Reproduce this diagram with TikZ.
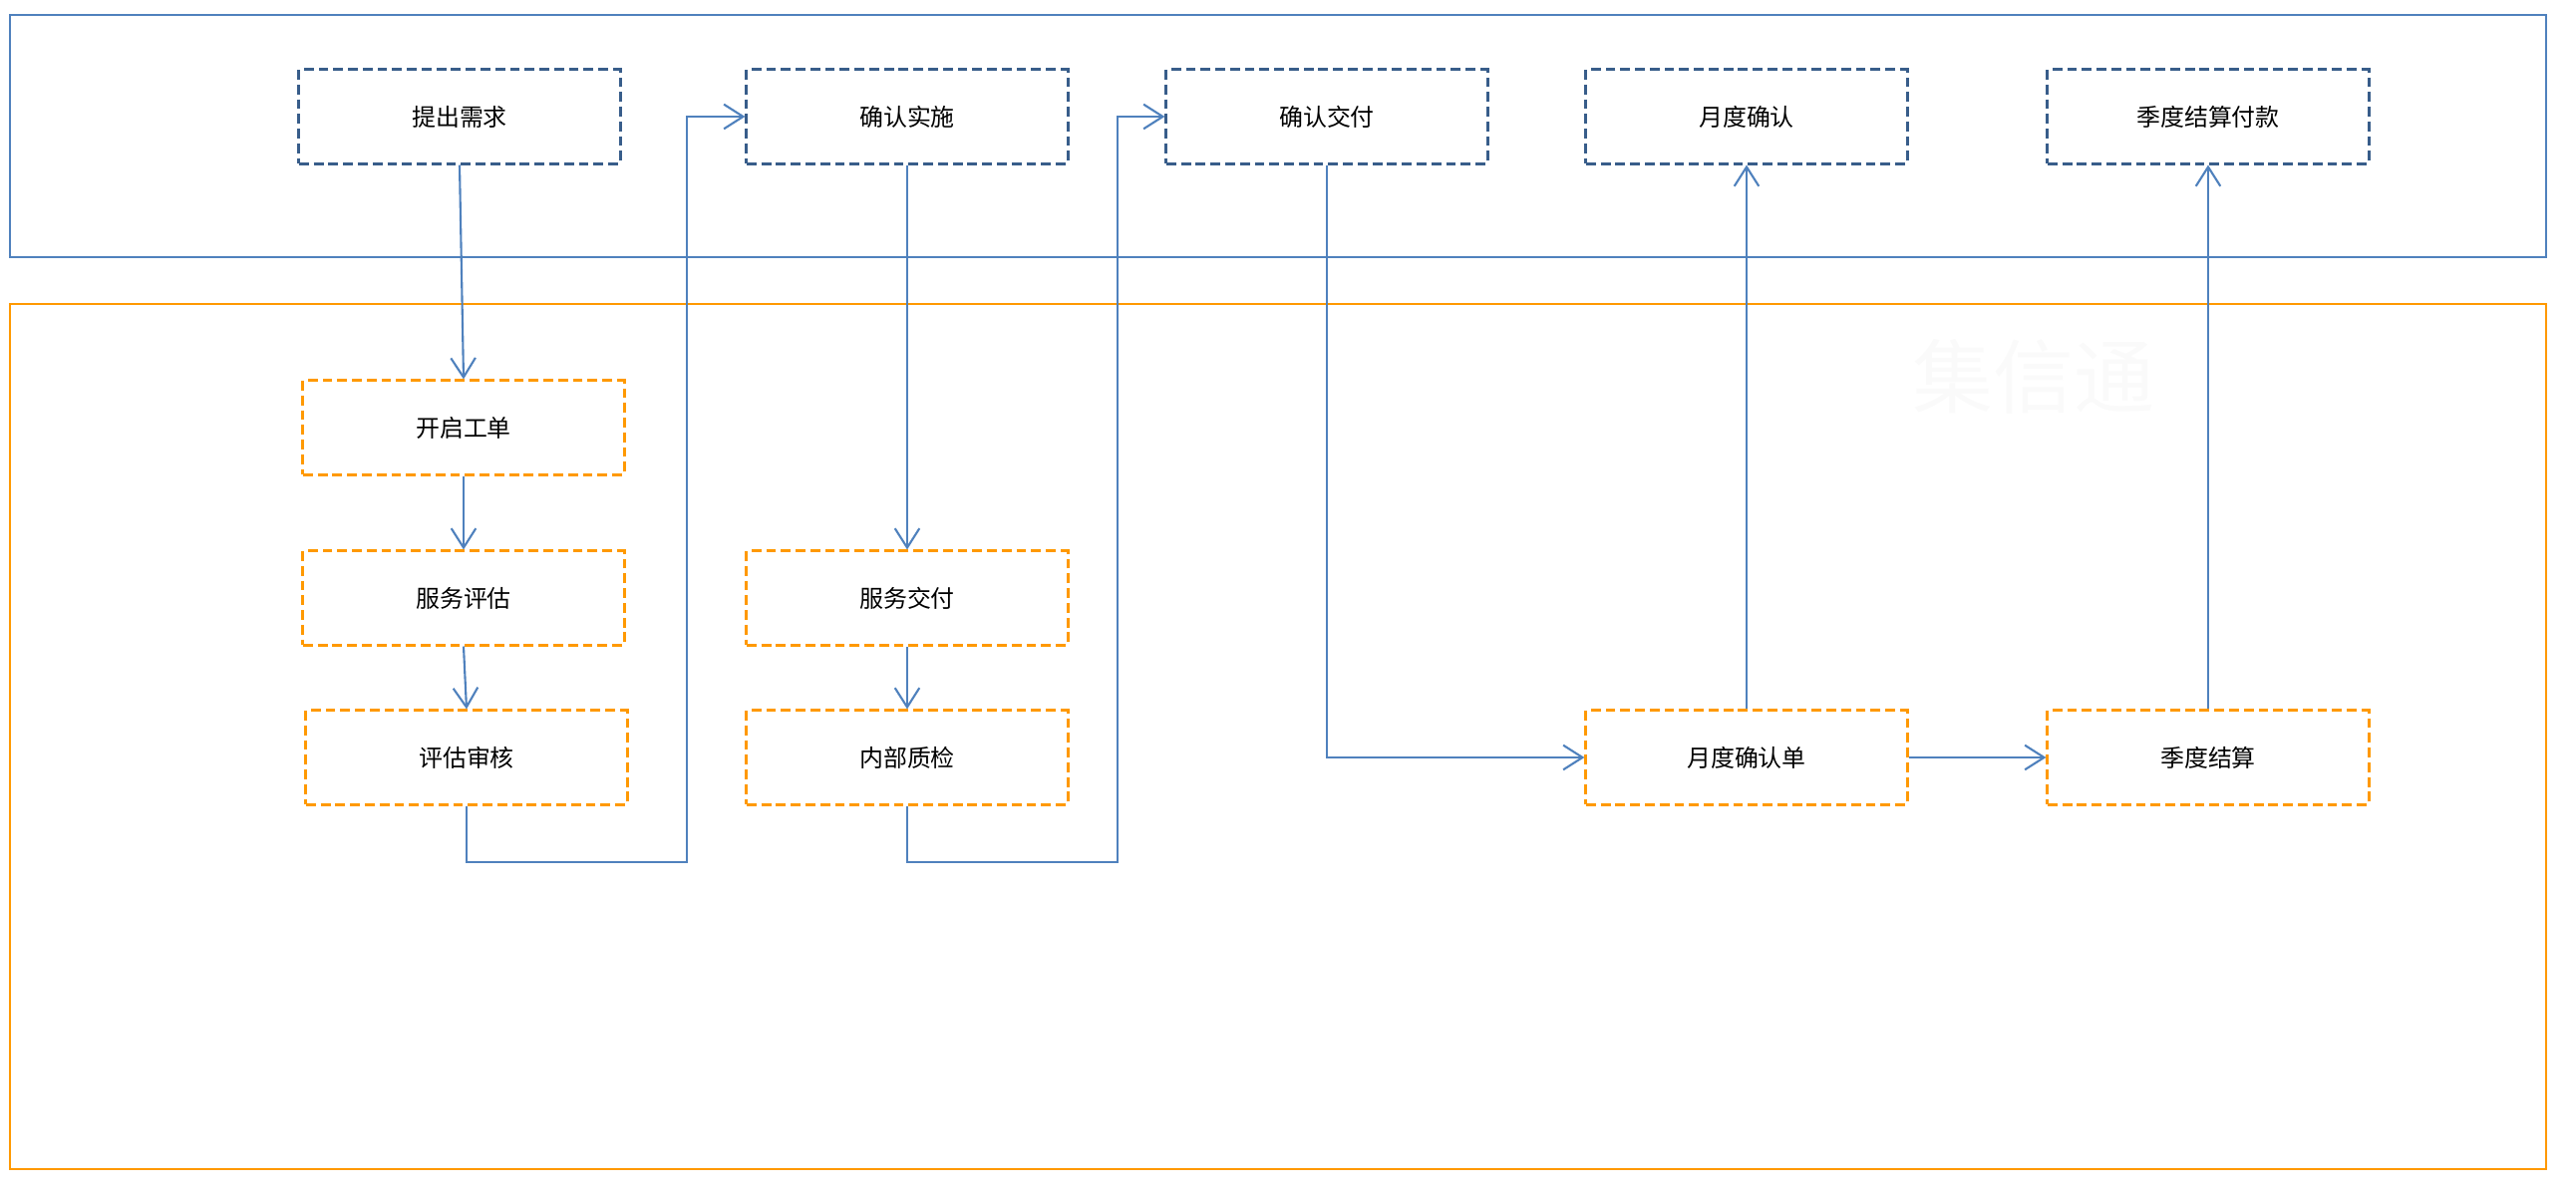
\documentclass[tikz,border=0pt]{standalone}
\usepackage{fontspec}
\newfontfamily\cjk{Noto Sans CJK SC}
\usetikzlibrary{arrows.meta}
\definecolor{frameblue}{HTML}{4F81BD}
\definecolor{boxblue}{HTML}{385D8A}
\definecolor{boxorange}{HTML}{FF9900}
\tikzset{
  upbox/.style={draw=boxblue, line width=0.85pt, dash pattern=on 2.8pt off 1.4pt,
    minimum width=3.22cm, minimum height=0.94cm, font=\cjk\fontsize{6.8}{8}\selectfont},
  downbox/.style={upbox, draw=boxorange},
  flow/.style={draw=frameblue, line width=0.6pt, -{Straight Barb[length=5.5pt,width=7pt]}},
}
\begin{document}
\begin{tikzpicture}[x=0.01cm, y=-0.01cm]
         \useasboundingbox (0,0) rectangle (2584,1201);
         % lanes
         \draw[frameblue, line width=0.7pt] (10,15) rectangle (2554,258);
         \draw[boxorange, line width=0.7pt] (10,305) rectangle (2554,1173);
         \node[text=black!2, font=\cjk\fontsize{23}{26}\selectfont] (mark) at (2040,378) {集信通};

         % customer side
         \node[upbox] (need) at (461,117) {提出需求};
         \node[upbox] (confirm) at (910,117) {确认实施};
         \node[upbox] (deliver) at (1331,117) {确认交付};
         \node[upbox] (monthly) at (1752,117) {月度确认};
         \node[upbox] (payment) at (2215,117) {季度结算付款};

         % service side
         \node[downbox] (ticket) at (465,429) {开启工单};
         \node[downbox] (assess) at (465,600) {服务评估};
         \node[downbox] (review) at (468,760) {评估审核};
         \node[downbox] (service) at (910,600) {服务交付};
         \node[downbox] (inspect) at (910,760) {内部质检};
         \node[downbox] (monthlist) at (1752,760) {月度确认单};
         \node[downbox] (settle) at (2215,760) {季度结算};

         \coordinate (turnA) at (689,865);
         \coordinate (turnB) at (1121,865);

         \draw[flow] (need.south) -- (ticket.north);
         \draw[flow] (ticket.south) -- (assess.north);
         \draw[flow] (assess.south) -- (review.north);
         \draw[flow] (review.south) |- (turnA) |- (confirm.west);
         \draw[flow] (confirm.south) -- (service.north);
         \draw[flow] (service.south) -- (inspect.north);
         \draw[flow] (inspect.south) |- (turnB) |- (deliver.west);
         \draw[flow] (deliver.south) |- (monthlist.west);
         \draw[flow] (monthlist.north) -- (monthly.south);
         \draw[flow] (monthlist.east) -- (settle.west);
         \draw[flow] (settle.north) -- (payment.south);
\end{tikzpicture}
\end{document}
